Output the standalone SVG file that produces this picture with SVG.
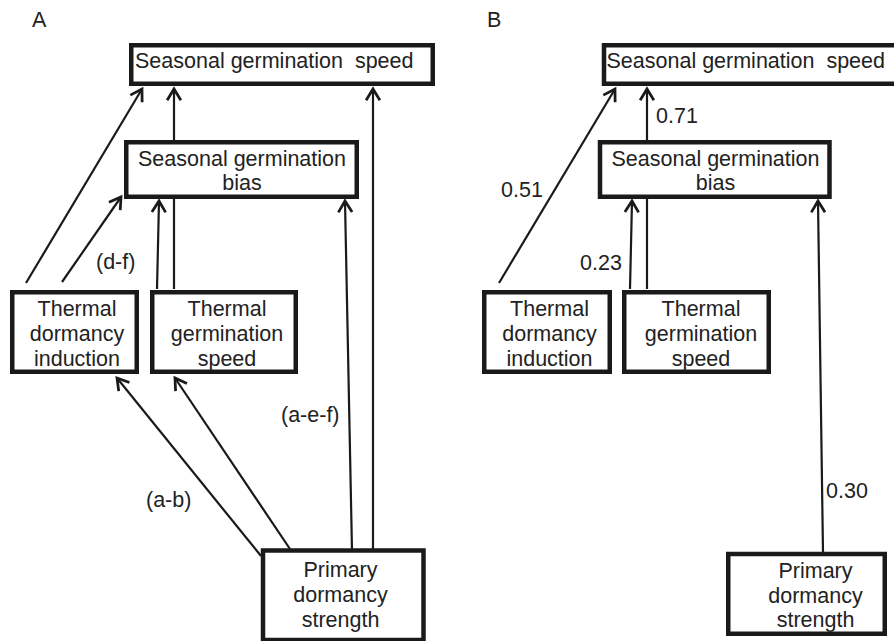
<svg xmlns="http://www.w3.org/2000/svg" width="894" height="641" viewBox="0 0 894 641">
<defs>
<marker id="ah" markerUnits="userSpaceOnUse" markerWidth="20" markerHeight="20" viewBox="-12 -8 16 16" refX="0" refY="0" orient="auto" overflow="visible">
<path d="M-9,-5.5 L0,0 L-9,5.5" fill="none" stroke="#1a1a1a" stroke-width="2.2" stroke-linejoin="miter"/>
</marker>
<style>
.box{fill:#fff;stroke:#1a1a1a;stroke-width:4.5}
.t{font-family:"Liberation Sans",Arial,sans-serif;font-size:21.5px;fill:#222}
.m{text-anchor:middle}
.c line{stroke:#1a1a1a;stroke-width:2.2;fill:none}
.c line.a{marker-end:url(#ah)}
</style>
</defs>
<rect width="894" height="641" fill="#fff"/>
<text class="t" x="32" y="27">A</text>
<text class="t" x="487" y="27">B</text>
<g id="connectors" class="c">
<line class="a" x1="26" y1="283" x2="142" y2="89"/>
<line class="a" x1="62" y1="282" x2="121" y2="197"/>
<line class="a" x1="157" y1="289" x2="159" y2="201"/>
<line class="a" x1="174" y1="289" x2="174" y2="89"/>
<line class="a" x1="292" y1="552" x2="175" y2="378"/>
<line class="a" x1="261" y1="556" x2="117" y2="378"/>
<line class="a" x1="352" y1="551" x2="345" y2="201"/>
<line class="a" x1="373" y1="551" x2="373" y2="89"/>
<line class="a" x1="499" y1="283" x2="615" y2="89"/>
<line class="a" x1="647" y1="289" x2="647" y2="89"/>
<line class="a" x1="630" y1="289" x2="632" y2="201"/>
<line class="a" x1="823" y1="553" x2="818" y2="201"/>
</g>
<g id="A_speed">
<rect class="box" x="131.25" y="45.25" width="301.5" height="38.5"/>
<text class="t" x="135" y="68" xml:space="preserve">Seasonal germination  speed</text>
</g>
<g id="A_bias">
<rect class="box" x="126.25" y="142.25" width="230.5" height="54.5"/>
<text class="t m" x="242" y="166">Seasonal germination</text>
<text class="t m" x="242" y="190">bias</text>
</g>
<g id="A_tdi">
<rect class="box" x="12.25" y="292.25" width="124.5" height="79.5"/>
<text class="t m" x="77" y="316">Thermal</text>
<text class="t m" x="77" y="341">dormancy</text>
<text class="t m" x="77" y="366">induction</text>
</g>
<g id="A_tgs">
<rect class="box" x="152.25" y="292.25" width="143.5" height="79.5"/>
<text class="t m" x="227" y="316">Thermal</text>
<text class="t m" x="227" y="341">germination</text>
<text class="t m" x="227" y="366">speed</text>
</g>
<g id="A_primary">
<rect class="box" x="263" y="550.5" width="160.5" height="89.5"/>
<text class="t m" x="340.5" y="577">Primary</text>
<text class="t m" x="340.5" y="602">dormancy</text>
<text class="t m" x="340.5" y="627">strength</text>
</g>
<g id="A_labels">
<text class="t" x="96" y="269">(d-f)</text>
<text class="t" x="281" y="422">(a-e-f)</text>
<text class="t" x="146" y="507">(a-b)</text>
</g>
<g id="B_speed">
<rect class="box" x="604" y="45.25" width="300" height="38.5"/>
<text class="t" x="606.5" y="68" xml:space="preserve">Seasonal germination  speed</text>
</g>
<g id="B_bias">
<rect class="box" x="600" y="142.25" width="229.5" height="54.5"/>
<text class="t m" x="715.5" y="166">Seasonal germination</text>
<text class="t m" x="715.5" y="190">bias</text>
</g>
<g id="B_tdi">
<rect class="box" x="484.25" y="292.25" width="125.5" height="79.5"/>
<text class="t m" x="549.5" y="316">Thermal</text>
<text class="t m" x="549.5" y="341">dormancy</text>
<text class="t m" x="549.5" y="366">induction</text>
</g>
<g id="B_tgs">
<rect class="box" x="624.25" y="292.25" width="144.5" height="79.5"/>
<text class="t m" x="701" y="316">Thermal</text>
<text class="t m" x="701" y="341">germination</text>
<text class="t m" x="701" y="366">speed</text>
</g>
<g id="B_primary">
<rect class="box" x="728.25" y="554" width="156.5" height="79.75"/>
<text class="t m" x="815.5" y="578">Primary</text>
<text class="t m" x="815.5" y="603">dormancy</text>
<text class="t m" x="815.5" y="627">strength</text>
</g>
<g id="B_labels">
<text class="t" x="656" y="123">0.71</text>
<text class="t" x="501" y="197">0.51</text>
<text class="t" x="580" y="270">0.23</text>
<text class="t" x="826" y="498">0.30</text>
</g>
</svg>
